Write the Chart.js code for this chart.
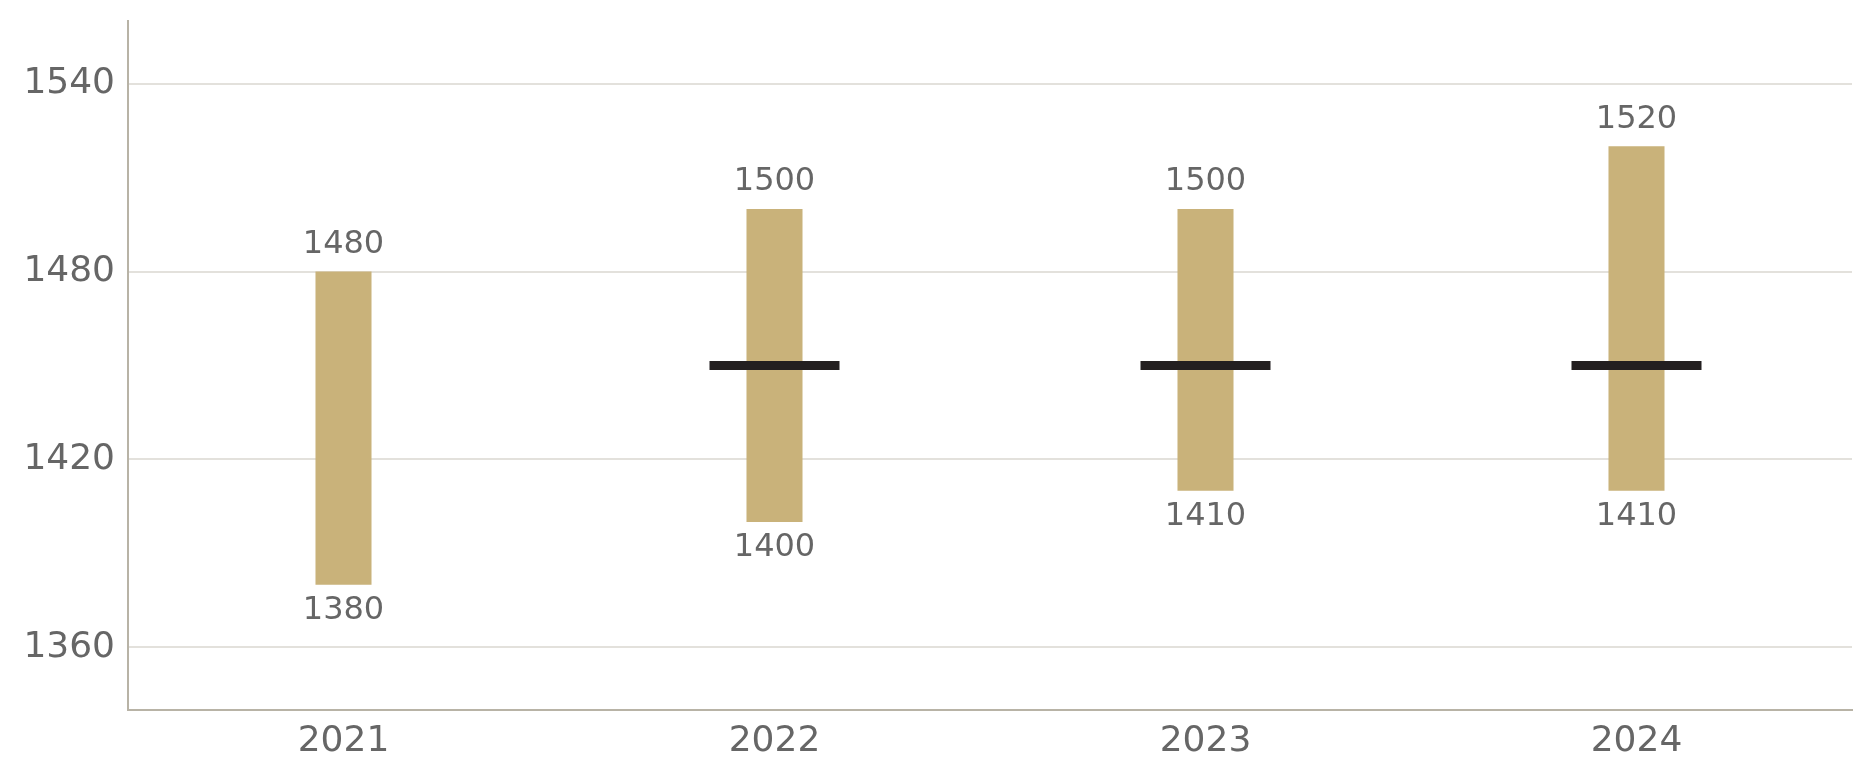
<!DOCTYPE html>
<html>
<head>
<meta charset="utf-8">
<script src="https://cdn.jsdelivr.net/npm/chart.js@4/dist/chart.umd.min.js"></script>
<style>
    html, body { margin: 0; padding: 0; background: #fff; }
    #wrap { width: 1875px; height: 780px; }
</style>
</head>
<body>
<div id="wrap"><canvas id="rangeChart" width="1875" height="780"></canvas></div>
<script>
// Data
const years = ['2021', '2022', '2023', '2024'];
const lows = [1380, 1400, 1410, 1410];
const highs = [1480, 1500, 1500, 1520];
const markers = [null, 1450, 1450, 1450];
const yTicks = [1360, 1420, 1480, 1540];

const textColor = '#666666';
const fontFamily = "'DejaVu Sans', sans-serif";

// Draw low/high values at the ends of every range bar
const rangeLabels = {
    id: 'rangeLabels',
    afterDatasetsDraw(chart) {
        const ctx = chart.ctx;
        const meta = chart.getDatasetMeta(0);
        ctx.save();
        ctx.fillStyle = textColor;
        ctx.font = '32px ' + fontFamily;
        ctx.textAlign = 'center';
        meta.data.forEach((bar, i) => {
            ctx.textBaseline = 'bottom';
            ctx.fillText(String(highs[i]), bar.x, bar.y - 11);
            ctx.textBaseline = 'top';
            ctx.fillText(String(lows[i]), bar.x, bar.base + 10);
        });
        ctx.restore();
    }
};

const ctx = document.getElementById('rangeChart').getContext('2d');
new Chart(ctx, {
    type: 'bar',
    data: {
        labels: years,
        datasets: [{
            label: 'Range',
            data: years.map((y, i) => [lows[i], highs[i]]),
            backgroundColor: '#c9b27a',
            borderWidth: 0,
            barPercentage: 0.13,
            categoryPercentage: 1.0,
            order: 2
        }, {
            type: 'line',
            label: 'Marker',
            data: markers,
            showLine: false,
            pointStyle: 'line',
            pointRadius: 65,
            pointBorderWidth: 9,
            pointBorderColor: '#231f20',
            pointBackgroundColor: '#231f20',
            order: 1
        }]
    },
    options: {
        responsive: false,
        animation: false,
        events: [],
        layout: {
            autoPadding: false,
            padding: { top: 21, right: 23, bottom: 0, left: 0 }
        },
        plugins: {
            legend: { display: false },
            tooltip: { enabled: false }
        },
        scales: {
            x: {
                grid: { display: false, drawTicks: false },
                border: { display: true, color: '#b8b3a6', width: 2 },
                ticks: {
                    color: textColor,
                    font: { family: fontFamily, size: 36 },
                    padding: 10
                },
                afterFit: function (scale) { scale.height = 70; }
            },
            y: {
                min: 1340,
                max: 1560,
                afterBuildTicks: function (scale) {
                    scale.ticks = yTicks.map(v => ({ value: v }));
                },
                grid: {
                    color: '#e3e1dc',
                    lineWidth: 2,
                    drawTicks: false
                },
                border: { display: true, color: '#b8b3a6', width: 2 },
                ticks: {
                    color: textColor,
                    font: { family: fontFamily, size: 36 },
                    padding: 13,
                    callback: function (value) { return String(value); }
                },
                afterFit: function (scale) {
                    scale.width = 128;
                    scale.paddingTop = 0;
                    scale.paddingBottom = 0;
                }
            }
        }
    },
    plugins: [rangeLabels]
});
</script>
</body>
</html>
